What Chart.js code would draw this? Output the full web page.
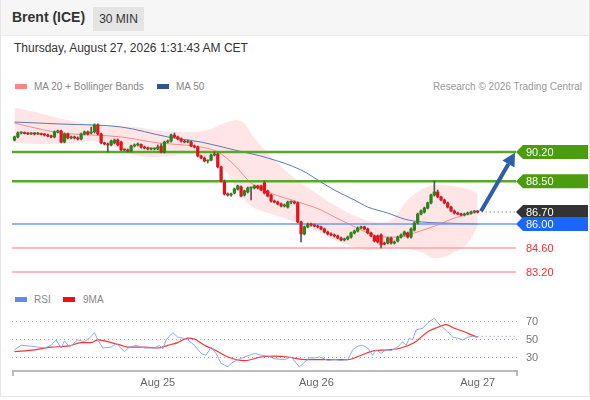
<!DOCTYPE html>
<html>
<head>
<meta charset="utf-8">
<script src="https://cdn.jsdelivr.net/npm/chart.js@4.4.1/dist/chart.umd.min.js"></script>
<style>
body{margin:0;background:#fff;font-family:"Liberation Sans",Arial,sans-serif;color:#333;}
#card{position:relative;width:588px;height:396px;border:1px solid #e6e6e6;border-top:none;overflow:hidden;background:#fff;}
#head{position:absolute;left:0;top:0;width:588px;height:35px;background:#f6f6f6;border-bottom:1px solid #ececec;}
#title{position:absolute;left:11px;top:9px;font-size:14px;font-weight:bold;color:#333;}
#tf{position:absolute;left:92px;top:7px;width:51px;height:24px;line-height:24px;text-align:center;background:#e4e4e4;font-size:12px;color:#333;}
#date{position:absolute;left:13px;top:41px;font-size:12px;color:#333;}
.lg{position:absolute;font-size:10px;color:#888;white-space:nowrap;}
.sw{position:absolute;width:12px;height:5px;}
#mainWrap{position:absolute;left:0;top:95px;width:590px;height:190px;}
#rsiWrap{position:absolute;left:0;top:300px;width:590px;height:95px;}
</style>
</head>
<body>
<div id="card">
  <div id="head">
    <div id="title">Brent (ICE)</div>
    <div id="tf">30 MIN</div>
  </div>
  <div id="date">Thursday, August 27, 2026 1:31:43 AM CET</div>

  <div class="sw" style="left:14px;top:84px;background:#ff8585"></div>
  <div class="lg" style="left:33px;top:81px">MA 20 + Bollinger Bands</div>
  <div class="sw" style="left:156px;top:84px;background:#2f5597"></div>
  <div class="lg" style="left:175px;top:81px">MA 50</div>
  <div class="lg" style="right:7px;top:81px;color:#999">Research © 2026 Trading Central</div>

  <div class="sw" style="left:14px;top:297px;background:#6688ee"></div>
  <div class="lg" style="left:33px;top:294px">RSI</div>
  <div class="sw" style="left:62px;top:297px;background:#ee1111"></div>
  <div class="lg" style="left:82px;top:294px">9MA</div>

  <div id="mainWrap"><canvas id="main"></canvas></div>
  <div id="rsiWrap"><canvas id="rsi"></canvas></div>
</div>
<script>
// 30 min candles, [open, high, low, close]
var candles = [
  [90.90,91.13,90.84,91.08],[91.08,91.37,91.02,91.31],[91.31,91.37,91.25,91.31],[91.31,91.37,91.25,91.28],
  [91.28,91.34,91.22,91.25],[91.25,91.34,91.22,91.31],[91.31,91.34,91.19,91.25],[91.25,91.34,91.22,91.28],
  [91.28,91.31,91.19,91.22],[91.22,91.28,91.13,91.19],[91.19,91.25,91.08,91.13],[91.13,91.19,91.02,91.08],
  [91.08,91.43,91.02,91.37],[91.37,91.48,91.31,91.43],[91.43,91.48,90.73,90.78],[90.78,91.31,90.73,91.25],
  [91.25,91.31,90.96,91.02],[91.02,91.13,90.96,91.08],[91.08,91.13,90.96,91.02],[91.02,91.08,90.90,90.96],
  [90.96,91.31,90.90,91.25],[91.25,91.43,91.19,91.37],[91.37,91.43,91.19,91.25],[91.31,91.66,91.25,91.37],
  [91.37,91.84,91.31,91.78],[91.78,91.84,91.19,91.25],[91.25,91.31,90.67,90.73],[90.73,90.78,90.61,90.67],
  [90.67,90.73,90.20,90.61],[90.61,90.90,90.55,90.84],[90.73,90.96,90.67,90.90],[90.90,90.96,90.55,90.61],
  [90.78,90.84,90.26,90.32],[90.32,90.38,90.26,90.32],[90.32,90.38,90.20,90.26],[90.26,90.61,90.20,90.55],
  [90.55,90.67,90.49,90.61],[90.61,90.73,90.55,90.64],[90.64,90.67,90.43,90.49],[90.49,90.55,90.38,90.43],
  [90.43,90.49,90.32,90.38],[90.38,90.43,90.32,90.38],[90.38,90.43,90.32,90.38],[90.38,90.61,90.32,90.49],
  [90.55,90.67,90.14,90.20],[90.20,90.84,90.14,90.78],[90.78,90.90,90.73,90.84],[90.84,91.25,90.78,91.19],
  [91.19,91.31,91.02,91.08],[91.08,91.13,90.90,90.96],[90.96,91.02,90.78,90.84],[90.84,90.90,90.73,90.78],
  [90.78,90.90,90.73,90.78],[90.78,90.84,90.49,90.55],[90.55,90.61,90.43,90.49],[90.49,90.55,89.91,89.97],
  [89.97,90.02,89.79,89.85],[89.85,89.91,89.62,89.68],[89.68,89.73,89.56,89.68],[89.73,90.08,89.68,90.02],
  [90.02,90.20,89.97,90.08],[90.08,90.14,89.27,89.33],[89.33,89.38,88.45,88.51],[88.45,88.57,87.69,87.75],
  [87.75,87.81,87.63,87.69],[87.69,87.81,87.63,87.75],[87.81,88.10,87.75,88.04],[88.04,88.27,87.98,88.22],
  [88.16,88.22,87.58,87.63],[87.69,87.98,87.63,87.93],[87.87,88.16,87.81,88.10],[88.10,88.16,87.40,88.10],
  [88.10,88.27,88.04,88.22],[88.22,88.27,88.04,88.10],[88.22,88.27,87.93,87.98],[88.39,88.51,87.75,87.81],
  [87.93,87.98,87.58,87.63],[87.69,87.75,87.28,87.34],[87.34,87.40,87.23,87.28],[87.28,87.34,87.11,87.17],
  [87.17,87.23,86.99,87.05],[87.05,87.17,86.99,87.11],[86.99,87.34,86.93,87.28],[87.28,87.34,87.17,87.28],
  [87.28,87.34,87.17,87.23],[87.23,87.28,86.06,86.12],[86.12,86.17,84.95,85.42],[85.42,85.88,85.36,85.83],
  [85.83,86.06,85.77,86.00],[86.00,86.06,85.88,85.94],[85.94,86.00,85.83,85.88],[85.88,85.94,85.77,85.83],
  [85.83,85.88,85.65,85.71],[85.71,85.77,85.48,85.53],[85.53,85.59,85.36,85.42],[85.42,85.48,85.30,85.36],
  [85.36,85.42,85.24,85.30],[85.30,85.36,85.13,85.18],[85.18,85.24,85.01,85.07],[85.07,85.18,85.01,85.13],
  [85.13,85.30,85.07,85.24],[85.24,85.53,85.18,85.48],[85.48,85.65,85.42,85.59],[85.59,85.83,85.53,85.77],
  [85.77,85.88,85.71,85.83],[85.83,85.88,85.65,85.71],[85.71,85.77,85.42,85.48],[85.48,85.53,85.24,85.30],
  [85.30,85.36,84.95,85.01],[85.30,85.36,84.89,84.95],[85.36,85.42,84.60,84.78],[84.89,84.95,84.78,84.83],
  [84.89,85.24,84.83,85.18],[85.18,85.24,84.83,84.89],[84.89,85.01,84.83,84.95],[85.01,85.30,84.95,85.24],
  [85.24,85.42,85.18,85.36],[85.36,85.59,85.30,85.53],[85.48,85.53,85.18,85.24],[85.24,85.77,85.18,85.71],
  [85.65,86.12,85.59,86.06],[86.06,86.64,86.00,86.58],[86.58,86.82,86.53,86.76],[86.70,86.99,86.64,86.93],
  [86.93,87.28,86.88,87.23],[87.23,87.75,87.17,87.69],[87.69,88.51,87.63,87.87],[87.87,87.98,87.52,87.58],
  [87.58,87.63,87.34,87.40],[87.40,87.46,87.17,87.23],[87.23,87.28,86.93,86.99],[86.99,87.05,86.70,86.76],
  [86.76,86.82,86.58,86.64],[86.64,86.70,86.53,86.58],[86.58,86.64,86.47,86.53],[86.53,86.64,86.47,86.58],
  [86.58,86.70,86.53,86.64],[86.64,86.76,86.58,86.70],[86.70,86.79,86.64,86.73],[86.73,86.79,86.64,86.70]
];

// moving averages, sampled along the candle index
var ma20Idx = [0, 9, 14, 32, 43, 51, 56, 61, 66, 71, 76, 86, 92, 96, 101, 106, 111, 116, 120, 127, 132, 139];
var ma20Val = [91.89, 91.48, 91.31, 91.08, 90.73, 90.61, 90.49, 90.20, 89.44, 88.39, 87.87, 87.23, 86.82, 86.41, 85.94, 85.48, 85.24, 85.24, 85.48, 85.94, 86.35, 86.70];
var ma50Idx = [0, 14, 32, 46, 56, 66, 76, 86, 92, 96, 102, 106, 112, 117, 122, 128, 139];
var ma50Val = [91.95, 91.83, 91.66, 91.08, 90.78, 90.32, 89.85, 89.15, 88.45, 87.98, 87.40, 86.99, 86.64, 86.29, 86.12, 86.06, 86.00];
var bbIdx   = [0, 8, 16, 26, 36, 44, 52, 58, 63, 68, 72, 78, 84, 90, 96, 103, 108, 113, 118, 122, 126, 131, 136, 139];
var bbUpper = [92.80, 92.45, 92.07, 91.72, 91.66, 91.43, 91.37, 91.48, 91.89, 92.01, 91.02, 89.73, 88.68, 87.87, 87.11, 86.41, 86.12, 86.23, 87.40, 87.98, 88.27, 88.22, 88.04, 87.81];
var bbLower = [90.73, 90.67, 90.73, 90.78, 90.02, 89.91, 90.08, 89.85, 89.15, 87.69, 86.93, 86.53, 86.12, 85.65, 85.07, 84.60, 84.48, 84.60, 84.54, 84.37, 84.02, 84.25, 84.89, 85.88];

// key levels and the forecast
var levelValues = [90.20, 88.50, 86.70, 86.00, 84.60, 83.20];
var fullLines = [90.20, 88.50, 86.00, 84.60, 83.20];
var lastPrice = 86.70;
var forecastIdx = [140, 150.2];
var forecastVal = [86.75, 90.15];

// RSI panel
var rsiIdx = [0, 2, 5, 7, 9, 11, 12.5, 14, 15, 16.5, 19, 21, 22.5, 24, 25, 26.5, 29, 30.5, 33, 34.5, 36.5, 39, 42, 43.5, 44.5, 45.5, 47.5, 49, 50.5, 52, 54, 56, 57.5, 59, 60.5, 62, 64, 65, 67, 69, 72, 74, 76, 78, 81, 83, 85.5, 87, 88.5, 90, 91.5, 93, 94, 96, 98, 100, 101.5, 103, 104.5, 106, 107.5, 108.5, 110, 111.5, 113, 115, 116.5, 117.5, 118.5, 119.5, 120.5, 122.5, 124, 126, 127, 128.5, 130, 131.5, 133, 134.5, 136, 137.5, 139];
var rsiVal = [38, 43, 42, 41, 40, 43, 49, 40, 48, 41, 49, 47, 51, 57, 49, 40, 41, 45, 36, 41, 43, 40, 40, 43, 39, 49, 57, 52, 51, 49, 43, 34, 32, 41, 34, 23, 19, 23, 27, 30, 34, 32, 31, 28, 27, 30, 19, 24, 29, 29, 30, 28, 26, 27, 26, 27, 38, 42, 43, 40, 32, 38, 34, 38, 37, 41, 47, 43, 51, 49, 60, 62, 68, 73, 68, 63, 58, 52, 51, 49, 52, 53, 52];
var rsiMaIdx = [0, 6, 11, 16, 20, 23, 25, 29, 32, 34, 39, 43, 46, 49, 52, 54, 57, 60, 64, 69, 74, 78, 82, 85, 89, 94, 100, 104, 108, 112, 116, 120, 124, 127, 129.5, 132, 135, 137.5, 139];
var rsiMaVal = [36, 38, 41, 42, 46, 46, 49, 46, 43, 41, 41, 40, 43, 46, 51, 50, 43, 38, 30, 26, 30, 31, 30, 28, 27, 27, 27, 32, 37, 38, 40, 46, 58, 63, 66, 62, 58, 54, 52];
var rsiLast = 53;
var rsiLevels = [70, 50, 30];

var dayLabels = ['Aug 25', 'Aug 26', 'Aug 27'];
var dayIdx = [43, 90.6, 139];

var xMin = -0.75, xMax = 150.5;
var FONT = '"Liberation Sans", Arial, sans-serif';

function pts(xs, ys) {
  return xs.map(function(x, i) { return {x: x, y: ys[i]}; });
}

var upColor = '#2a8416', downColor = '#e3121b';
var bodyColors = candles.map(function(c) { return c[3] >= c[0] ? upColor : downColor; });

var levelStyle = {
  '90.2': {bg: '#4b9c0f', text: '#fff', line: '#58a82a', width: 2.5},
  '88.5': {bg: '#4b9c0f', text: '#fff', line: '#58a82a', width: 2.5},
  '86.7': {bg: '#333333', text: '#fff'},
  '86': {bg: '#1a66ff', text: '#fff', line: '#6f97ff', width: 1.5},
  '84.6': {bg: null, text: '#ff2a2a', line: '#ffa3a3', width: 1.3},
  '83.2': {bg: null, text: '#ff2a2a', line: '#ffa3a3', width: 1.3}
};

var datasets = [];
datasets.push({
  type: 'line', data: pts(bbIdx, bbUpper), borderWidth: 0, pointRadius: 0,
  tension: 0.4, fill: '+1', backgroundColor: 'rgba(255,0,0,0.1)', order: 20
});
datasets.push({
  type: 'line', data: pts(bbIdx, bbLower), borderWidth: 0, pointRadius: 0,
  tension: 0.4, fill: false, order: 21
});
datasets.push({
  type: 'line', data: pts(ma20Idx, ma20Val), borderColor: '#ff8a8a', borderWidth: 1,
  pointRadius: 0, cubicInterpolationMode: 'monotone', fill: false, order: 15
});
datasets.push({
  type: 'line', data: pts(ma50Idx, ma50Val), borderColor: '#5b78b5', borderWidth: 1,
  pointRadius: 0, cubicInterpolationMode: 'monotone', fill: false, order: 14
});
fullLines.forEach(function(v) {
  var st = levelStyle[String(v)];
  datasets.push({
    type: 'line', data: pts([xMin, xMax], [v, v]), borderColor: st.line, borderWidth: st.width,
    pointRadius: 0, fill: false, order: 10
  });
});
datasets.push({
  type: 'line', data: pts([139, xMax], [lastPrice, lastPrice]), borderColor: '#555',
  borderWidth: 1, borderDash: [1, 3], pointRadius: 0, fill: false, order: 10
});
datasets.push({
  type: 'bar', data: candles.map(function(c, i) { return {x: i, y: [c[2], c[1]]}; }),
  backgroundColor: '#555', barThickness: 1, grouped: false, order: 6
});
datasets.push({
  type: 'bar', data: candles.map(function(c, i) { return {x: i, y: [c[0], c[3]]}; }),
  backgroundColor: bodyColors, barThickness: 2.6, minBarLength: 1, grouped: false, order: 5
});
var arrowIndex = datasets.length;
datasets.push({
  type: 'line', data: pts(forecastIdx, forecastVal), borderWidth: 0, pointRadius: 0,
  fill: false, order: 1
});

var tagPlugin = {
  id: 'tags',
  afterDatasetsDraw: function(chart) {
    var ctx = chart.ctx, ys = chart.scales.y, x0 = chart.chartArea.right;
    // forecast arrow
    var m = chart.getDatasetMeta(arrowIndex).data;
    var ax = m[0].x, ay = m[0].y, bx = m[1].x, by = m[1].y;
    var ang = Math.atan2(by - ay, bx - ax), head = 13, hw = 7;
    var sx = bx - Math.cos(ang) * head, sy = by - Math.sin(ang) * head;
    ctx.save();
    ctx.strokeStyle = '#2d5ea8'; ctx.fillStyle = '#2d5ea8';
    ctx.lineWidth = 4;
    ctx.beginPath(); ctx.moveTo(ax, ay); ctx.lineTo(sx, sy); ctx.stroke();
    ctx.beginPath();
    ctx.moveTo(bx, by);
    ctx.lineTo(sx + Math.sin(ang) * hw, sy - Math.cos(ang) * hw);
    ctx.lineTo(sx - Math.sin(ang) * hw, sy + Math.cos(ang) * hw);
    ctx.closePath(); ctx.fill();
    ctx.restore();

    levelValues.forEach(function(v) {
      var st = levelStyle[String(v)], py = ys.getPixelForValue(v);
      ctx.save();
      if (st.bg) {
        ctx.fillStyle = st.bg;
        ctx.beginPath();
        ctx.moveTo(x0, py);
        ctx.lineTo(x0 + 7, py - 7);
        ctx.lineTo(587, py - 7);
        ctx.lineTo(587, py + 7);
        ctx.lineTo(x0 + 7, py + 7);
        ctx.closePath(); ctx.fill();
      }
      ctx.font = '11px ' + FONT;
      ctx.textBaseline = 'middle';
      ctx.fillStyle = st.text;
      ctx.fillText(v.toFixed(2), x0 + 10, py + 0.5);
      ctx.restore();
    });
  }
};

new Chart(document.getElementById('main'), {
  type: 'bar',
  data: {datasets: datasets},
  options: {
    responsive: true, maintainAspectRatio: false, animation: false,
    layout: {padding: {left: 11, right: 75, top: 0, bottom: 0}},
    plugins: {legend: {display: false}, tooltip: {enabled: false}},
    scales: {
      x: {type: 'linear', min: xMin, max: xMax, offset: false, display: false},
      y: {type: 'linear', min: 82.442, max: 93.525, display: false}
    }
  },
  plugins: [tagPlugin]
});

var rsiPlugin = {
  id: 'rsiAxis',
  beforeDatasetsDraw: function(chart) {
    var ctx = chart.ctx, a = chart.chartArea, ys = chart.scales.y;
    ctx.save();
    ctx.strokeStyle = '#aaa'; ctx.lineWidth = 1; ctx.setLineDash([1, 3]);
    ctx.font = '11px ' + FONT; ctx.fillStyle = '#777'; ctx.textBaseline = 'middle';
    rsiLevels.forEach(function(v) {
      var py = Math.round(ys.getPixelForValue(v)) + 0.5;
      ctx.beginPath(); ctx.moveTo(a.left, py); ctx.lineTo(a.right + 2, py); ctx.stroke();
      ctx.fillText(String(v), a.right + 10, py);
    });
    ctx.restore();
  },
  afterDraw: function(chart) {
    var ctx = chart.ctx, a = chart.chartArea, xs = chart.scales.x;
    ctx.save();
    ctx.strokeStyle = '#bbb'; ctx.lineWidth = 2;
    ctx.beginPath();
    ctx.moveTo(a.left + 1, a.bottom + 6); ctx.lineTo(a.left + 1, a.bottom + 1);
    ctx.lineTo(a.right + 1, a.bottom + 1); ctx.lineTo(a.right + 1, a.bottom + 6);
    ctx.stroke();
    ctx.font = '11px ' + FONT; ctx.fillStyle = '#666';
    ctx.textAlign = 'center'; ctx.textBaseline = 'middle';
    dayLabels.forEach(function(t, i) {
      ctx.fillText(t, xs.getPixelForValue(dayIdx[i]), a.bottom + 13);
    });
    ctx.restore();
  }
};

new Chart(document.getElementById('rsi'), {
  type: 'line',
  data: {datasets: [
    {data: pts(rsiMaIdx, rsiMaVal), borderColor: '#ff3030', borderWidth: 1.2, pointRadius: 0,
     cubicInterpolationMode: 'monotone', fill: false, order: 2},
    {data: pts(rsiIdx, rsiVal), borderColor: '#8ea9f2', borderWidth: 1, pointRadius: 0,
     tension: 0, fill: false, order: 1},
    {data: pts([139, xMax], [rsiLast, rsiLast]), borderColor: '#6f8fe0', borderWidth: 1,
     borderDash: [1, 3], pointRadius: 0, fill: false, order: 3}
  ]},
  options: {
    responsive: true, maintainAspectRatio: false, animation: false,
    layout: {padding: {left: 11, right: 75, top: 0, bottom: 25}},
    plugins: {legend: {display: false}, tooltip: {enabled: false}},
    scales: {
      x: {type: 'linear', min: xMin, max: xMax, display: false},
      y: {type: 'linear', min: 15.56, max: 93.33, display: false}
    }
  },
  plugins: [rsiPlugin]
});
</script>
</body>
</html>
